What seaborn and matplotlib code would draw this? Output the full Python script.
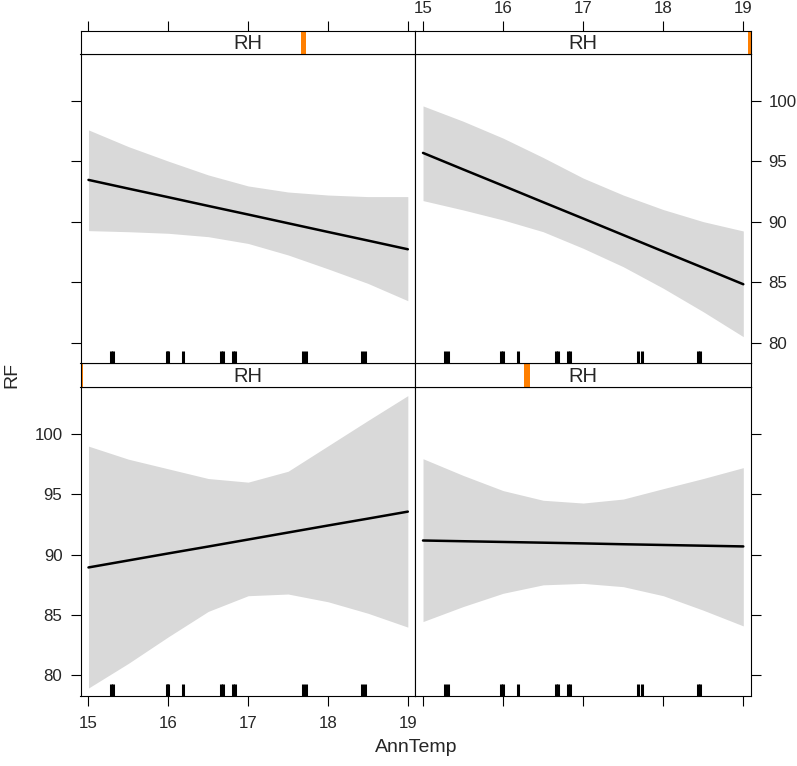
import seaborn as sns
import matplotlib.pyplot as plt
from matplotlib.patches import Rectangle

# values (RF vs AnnTemp at 4 RH levels)
ann_temp = [15.0, 15.5, 16.0, 16.5, 17.0, 17.5, 18.0, 18.5, 19.0]

fit_rh1 = [88.94, 89.52, 90.10, 90.67, 91.25, 91.83, 92.41, 92.98, 93.56]
lo_rh1 = [78.96, 81.0, 83.2, 85.3, 86.6, 86.74, 86.1, 85.15, 84.0]
hi_rh1 = [98.98, 97.9, 97.1, 96.3, 96.0, 96.9, 99.0, 101.1, 103.16]

fit_rh2 = [91.17, 91.11, 91.05, 90.99, 90.93, 90.86, 90.80, 90.74, 90.68]
lo_rh2 = [84.46, 85.7, 86.8, 87.5, 87.62, 87.35, 86.6, 85.4, 84.1]
hi_rh2 = [97.94, 96.56, 95.3, 94.5, 94.27, 94.6, 95.46, 96.3, 97.2]

fit_rh3 = [93.45, 92.73, 92.02, 91.30, 90.59, 89.87, 89.15, 88.44, 87.72]
lo_rh3 = [89.26, 89.17, 89.04, 88.76, 88.2, 87.25, 86.1, 84.9, 83.47]
hi_rh3 = [97.58, 96.2, 95.0, 93.86, 92.95, 92.45, 92.2, 92.07, 92.07]

fit_rh4 = [95.68, 94.32, 92.97, 91.61, 90.26, 88.90, 87.54, 86.19, 84.83]
lo_rh4 = [91.74, 90.97, 90.14, 89.17, 87.8, 86.28, 84.5, 82.56, 80.5]
hi_rh4 = [99.56, 98.3, 96.9, 95.3, 93.6, 92.2, 91.0, 90.0, 89.23]

rug_temp = [15.28, 15.31, 15.98, 16.00, 16.19, 16.66, 16.69,
            16.81, 16.84, 17.69, 17.73, 18.43, 18.46]

# where the RH level sits in its range (orange marker in the strip)
rh_frac = [0.0, 1 / 3, 2 / 3, 1.0]

x_ticks = [15, 16, 17, 18, 19]
y_ticks = [80, 85, 90, 95, 100]

sns.set_style("ticks")
plt.rcParams['font.family'] = ['Liberation Sans', 'DejaVu Sans']

W, H = 797, 766
fig = plt.figure(figsize=(W / 100, H / 100), dpi=100)

cols = [(80.5, 415), (415, 750.5)]
rows = {'top': (54, 363.3, 30.7), 'bottom': (387.3, 696, 363.3)}

panels = [
    (0, 'bottom', fit_rh1, lo_rh1, hi_rh1),
    (1, 'bottom', fit_rh2, lo_rh2, hi_rh2),
    (0, 'top', fit_rh3, lo_rh3, hi_rh3),
    (1, 'top', fit_rh4, lo_rh4, hi_rh4),
]

xlim = (14.9, 19.09)
ylim = (78.3, 103.85)
tick_kw = dict(direction='out', length=7, width=0.8, color='black',
               labelsize=12.2, pad=6)

for i, (c, r, fit, lo, hi) in enumerate(panels):
    x0, x1 = cols[c]
    ptop, pbot, stop = rows[r]
    ax = fig.add_axes([x0 / W, 1 - pbot / H, (x1 - x0) / W, (pbot - ptop) / H])
    ax.fill_between(ann_temp, lo, hi, color='#d9d9d9', lw=0)
    sns.lineplot(x=ann_temp, y=fit, color='black', lw=1.8, ax=ax)
    sns.rugplot(x=rug_temp, height=0.04, color='black', linewidth=2.2,
                expand_margins=False, ax=ax)
    ax.set_xlim(xlim)
    ax.set_ylim(ylim)
    ax.set_xticks(x_ticks)
    ax.set_yticks(y_ticks)
    ax.set_xlabel('')
    ax.set_ylabel('')
    for s in ax.spines.values():
        s.set_color('black')
        s.set_linewidth(0.8)
        s.set_visible(True)
    ax.tick_params(axis='both', **tick_kw)
    ax.tick_params(axis='x', pad=7.5)
    ax.tick_params(axis='x', top=False, bottom=(r == 'bottom'),
                   labelbottom=(r == 'bottom' and c == 0), labeltop=False)
    ax.tick_params(axis='y', left=(c == 0), right=(c == 1),
                   labelleft=(r == 'bottom' and c == 0),
                   labelright=(r == 'top' and c == 1))

    # strip
    sx = fig.add_axes([x0 / W, 1 - ptop / H, (x1 - x0) / W, (ptop - stop) / H])
    sx.set_xlim(0, 1)
    sx.set_ylim(0, 1)
    sx.add_patch(Rectangle((rh_frac[i] - 0.008, 0), 0.016, 1,
                           transform=sx.transAxes, color='#ff7f00', lw=0))
    sx.text(0.5, 0.45, 'RH', ha='center', va='center', fontsize=14.5,
            transform=sx.transAxes)
    for s in sx.spines.values():
        s.set_color('black')
        s.set_linewidth(0.8)
        s.set_visible(True)
    sx.set_yticks([])
    sx.set_xticks([])
    if r == 'top':
        tx = sx.twiny()
        tx.set_xlim(xlim)
        tx.set_xticks(x_ticks)
        for s in tx.spines.values():
            s.set_visible(False)
        tx.tick_params(axis='x', **tick_kw)
        tx.tick_params(axis='x', top=True, bottom=False, pad=3.5,
                       labeltop=(c == 1), labelbottom=False)

fig.text(416 / W, 1 - 748 / H, 'AnnTemp', ha='center', va='center', fontsize=14)
fig.text(12 / W, 1 - 375 / H, 'RF', ha='center', va='center', fontsize=14,
         rotation=90)

fig.savefig('out.png', dpi=100)
